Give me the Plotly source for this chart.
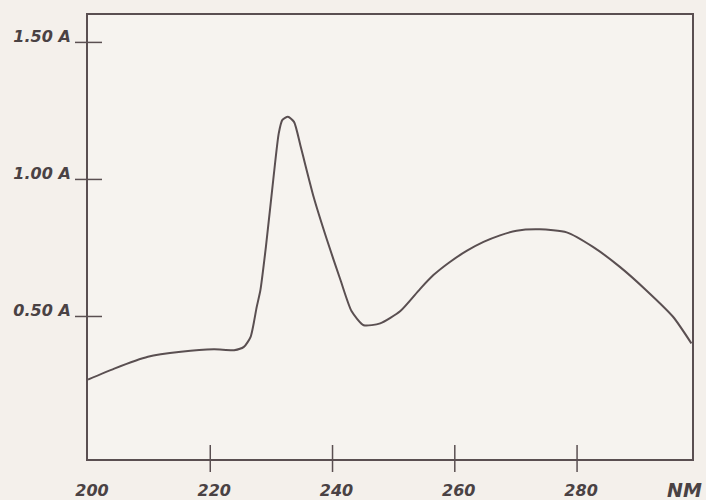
import plotly.graph_objects as go

# Absorbance spectrum
WAVELENGTH_NM = [200.0, 204.3, 209.8, 215.2, 220.6, 223.9, 225.5, 226.6, 227.6, 228.2,
                 229.1, 230.3, 231.2, 231.8, 232.7, 233.7, 234.8, 236.9, 239.1, 241.3,
                 243.1, 245.1, 247.8, 251.1, 254.3, 256.5, 259.2, 262.0, 264.7, 267.4,
                 270.1, 273.9, 278.3, 282.6, 287.0, 291.3, 295.7, 298.7]
ABSORBANCE = [0.27, 0.31, 0.353, 0.371, 0.38, 0.377, 0.389, 0.426, 0.535, 0.596,
              0.754, 0.998, 1.168, 1.217, 1.229, 1.21, 1.119, 0.937, 0.779, 0.633,
              0.52, 0.468, 0.475, 0.52, 0.60, 0.651, 0.699, 0.740, 0.772, 0.796,
              0.813, 0.818, 0.807, 0.754, 0.681, 0.596, 0.499, 0.402]

X_TICK_VALUES = [200, 220, 240, 260, 280]
X_TICK_LABELS = ["200", "220", "240", "260", "280"]
X_TICK_MARKS = [220, 240, 260, 280]
X_UNIT_LABEL = "NM"
X_UNIT_POS = 297.6
X_RANGE = [200, 298.8]

Y_TICK_VALUES = [0.5, 1.0, 1.5]
Y_TICK_LABELS = ["0.50 A", "1.00 A", "1.50 A"]
Y_RANGE = [-0.02, 1.6]

INK = "#5a4f51"
TEXT = "#4a4244"
FONT = dict(family="DejaVu Sans", size=16, color=TEXT, weight="bold", style="italic")

fig = go.Figure()
fig.add_trace(go.Scatter(
    x=WAVELENGTH_NM, y=ABSORBANCE, mode="lines",
    line=dict(color=INK, width=2, shape="spline", smoothing=0.6),
    hoverinfo="skip", showlegend=False,
))

shapes = []
for v in X_TICK_MARKS:
    shapes.append(dict(type="line", xref="x", yref="paper", ysizemode="pixel", yanchor=0,
                       x0=v, x1=v, y0=-13, y1=14, line=dict(color=INK, width=1.5)))
for v in Y_TICK_VALUES:
    shapes.append(dict(type="line", xref="paper", yref="y", xsizemode="pixel", xanchor=0,
                       x0=-13, x1=14, y0=v, y1=v, line=dict(color=INK, width=1.5)))

fig.update_layout(
    width=706, height=500,
    margin=dict(l=88, r=14, t=15, b=41),
    paper_bgcolor="#f4f0eb", plot_bgcolor="#f6f3ef",
    shapes=shapes,
    xaxis=dict(range=X_RANGE, tickvals=X_TICK_VALUES, ticktext=X_TICK_LABELS,
               ticks="", showgrid=False, zeroline=False, showline=True, mirror=True,
               linecolor=INK, linewidth=2, tickfont=FONT, ticklabelstandoff=16,
               ticklabelshift=4, automargin=False),
    yaxis=dict(range=Y_RANGE, tickvals=Y_TICK_VALUES, ticktext=Y_TICK_LABELS,
               ticks="", showgrid=False, zeroline=False, showline=True, mirror=True,
               linecolor=INK, linewidth=2, tickfont=FONT, ticklabelstandoff=12,
               ticklabelshift=-6, automargin=False),
    annotations=[dict(x=X_UNIT_POS, xref="x", y=0, yref="paper", yshift=-31,
                      text=X_UNIT_LABEL, showarrow=False, xanchor="center", yanchor="middle",
                      font=dict(family="DejaVu Sans", size=19, color=TEXT,
                                weight="bold", style="italic"))],
)

fig.write_html("out.html", config={"displayModeBar": False},
               post_script="document.body.style.margin='0px';")
